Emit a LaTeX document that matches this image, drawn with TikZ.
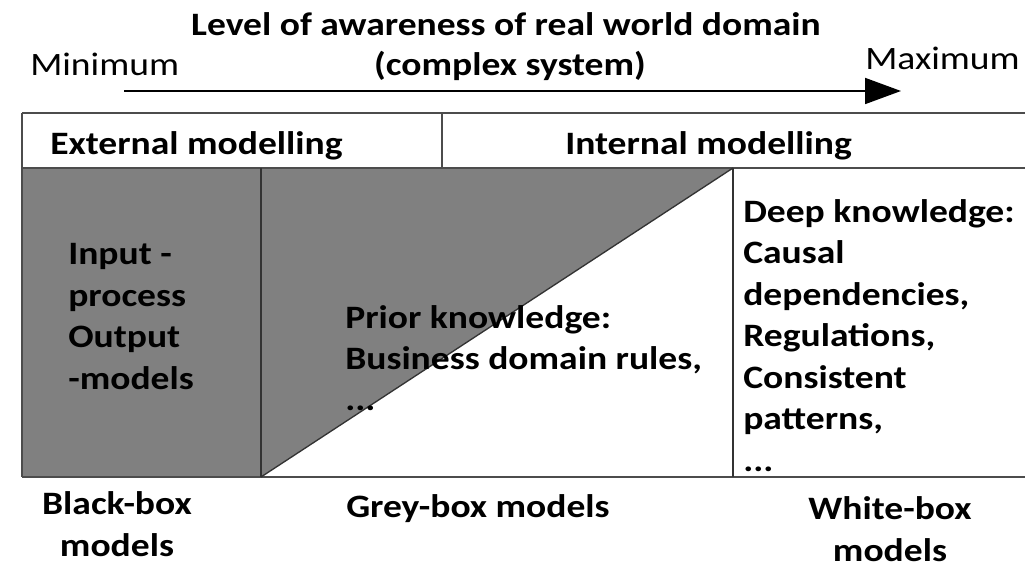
\documentclass[tikz,border=0pt]{standalone}
\usepackage{fontspec}
\setmainfont{Carlito}[FakeStretch=1.15]
\usetikzlibrary{arrows.meta}
\begin{document}
\begin{tikzpicture}[x=0.75pt,y=-0.75pt,
  lbl/.style={font=\fontsize{24.5}{31.1}\selectfont\bfseries, inner sep=0pt, align=left},
  lblr/.style={font=\fontsize{24.5}{31.1}\selectfont, inner sep=0pt},
  rule/.style={draw=black!70, line width=1.6pt},
  thinrule/.style={draw=black!80, line width=1pt},
  greyfill/.style={fill=black!50}]
\useasboundingbox (0,0) rectangle (1025,570);
\fill[white] (0,0) rectangle (1025,570);
% coordinates
\coordinate (tl) at (22,113);
\coordinate (hb) at (22,168);
\coordinate (bl) at (22,477);
\coordinate (d1t) at (261,168);
\coordinate (d1b) at (261,477);
\coordinate (d2t) at (733,168);
\coordinate (d2b) at (733,477);
\coordinate (hd) at (442,113);
\coordinate (hdb) at (442,168);
\coordinate (tr) at (1025,113);
\coordinate (hr) at (1025,168);
\coordinate (br) at (1025,477);
% fills
\fill[greyfill] (hb) rectangle (d1b);
\fill[greyfill] (d1t) -- (d2t) -- (d1b) -- cycle;
% lines
\draw[rule] (tl) -- (tr);
\draw[rule] (hb) -- (hr);
\draw[rule] (bl) -- (br);
\draw[rule] (tl) -- (bl);
\draw[rule] (hd) -- (hdb);
\draw[thinrule] (d1t) -- (d1b);
\draw[thinrule] (d2t) -- (d2b);
\draw[thinrule] (d2t) -- (d1b);
% arrow
\coordinate (as) at (124,91);
\coordinate (ae) at (901,91);
\draw[line width=1.4pt, -{Triangle[length=27pt,width=19.5pt]}] (as) -- (ae);
% texts
\node[lbl, anchor=base] (title) at (506,36) {Level of awareness of real world domain};
\node[lbl, anchor=base] (sub) at (510,76) {(complex system)};
\node[lblr, anchor=base west] (min) at (30,76) {Minimum};
\node[lblr, anchor=base west] (max) at (865,70) {Maximum};
\node[lbl, anchor=base west] (ext) at (50,155) {External modelling};
\node[lbl, anchor=base west] (int) at (565,155) {Internal modelling};
\node[lbl, anchor=base west] (io) at (68,389) {Input -\\process\\Output\\-models};
\node[lbl, anchor=base west] (prior) at (345,411) {Prior knowledge:\\Business domain rules,\\...};
\node[lbl, anchor=base west] (deep) at (743,471) {Deep knowledge:\\Causal\\dependencies,\\Regulations,\\Consistent\\patterns,\\...};
\node[lbl, anchor=base, align=center] (bb) at (117,556) {Black-box\\models};
\node[lbl, anchor=base west] (gb) at (346,517) {Grey-box models};
\node[lbl, anchor=base, align=center] (wb) at (890,561) {White-box\\models};
\end{tikzpicture}
\end{document}
